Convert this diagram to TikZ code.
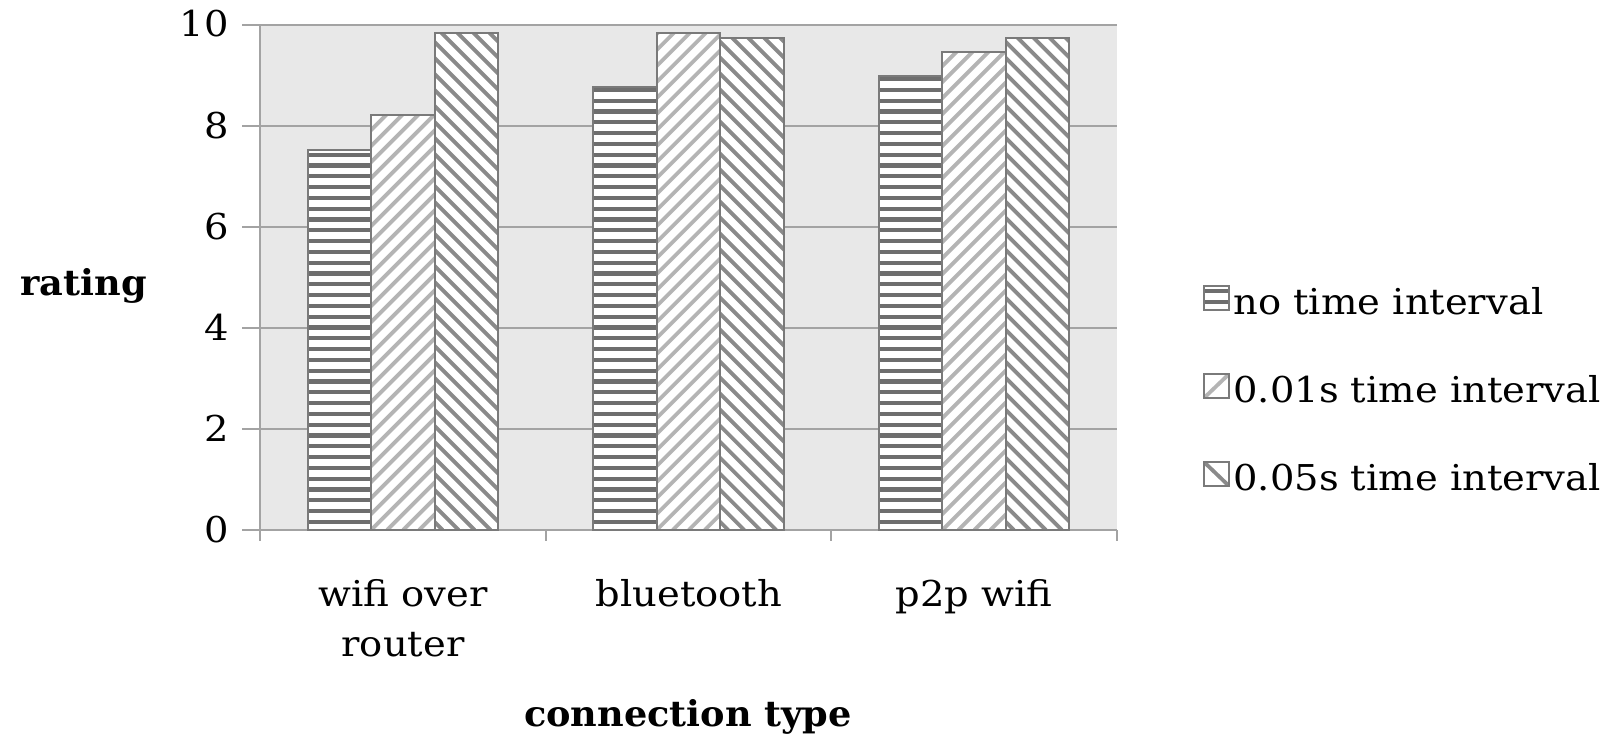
\documentclass[tikz,border=0pt]{standalone}
\usepackage{fontspec}
\setmainfont[FakeStretch=1.08]{DejaVu Serif}
\newfontfamily\titlefont[FakeStretch=1.03]{DejaVu Serif}
\definecolor{plotbg}{HTML}{E8E8E8}
\definecolor{gridc}{HTML}{A3A3A3}
\definecolor{barc}{HTML}{7A7A7A}
\definecolor{stripeD}{HTML}{6E6E6E}
\definecolor{diagL}{HTML}{B4B4B4}
\definecolor{diagD}{HTML}{8A8A8A}
\tikzset{
  gridline/.style={draw=gridc, line width=1pt},
  barline/.style={draw=barc, line width=1pt},
  ticklab/.style={anchor=base east, inner sep=0pt, font=\fontsize{17.8pt}{21pt}\selectfont},
  catlab/.style={anchor=base, inner sep=0pt, font=\fontsize{17.8pt}{21pt}\selectfont},
  leglab/.style={anchor=base west, inner sep=0pt, font=\fontsize{17.8pt}{21pt}\selectfont},
  titlelab/.style={inner sep=0pt, font=\titlefont\bfseries\fontsize{17.8pt}{21pt}\selectfont},
}
% patterns: #1 x-left, #2 y-bottom, #3 x-right, #4 y-top (pixel coordinates, y down)
\newcommand\patH[4]{%
  \begin{scope}
    \clip (#1,#2) rectangle (#3,#4);
    \fill[white] (#1,#2) rectangle (#3,#4);
    \foreach \k in {0,...,50}{\fill[stripeD] (#1,#2-6-10.8*\k) rectangle (#3,#2-6-10.8*\k-4.2);}
  \end{scope}}
\newcommand\patU[4]{%
  \begin{scope}
    \clip (#1,#2) rectangle (#3,#4);
    \fill[white] (#1,#2) rectangle (#3,#4);
    \foreach \k in {0,...,45}{\draw[diagL, line width=1.9pt] (#1-560+16*\k,#2) -- ++(600,-600);}
  \end{scope}}
\newcommand\patD[4]{%
  \begin{scope}
    \clip (#1,#2) rectangle (#3,#4);
    \fill[white] (#1,#2) rectangle (#3,#4);
    \foreach \k in {0,...,45}{\draw[diagD, line width=1.9pt] (#1-40+16*\k,#2) -- ++(-600,-600);}
  \end{scope}}
\newcommand\chartbar[3]{% #1 pattern macro, #2 left x, #3 value
  \pgfmathsetmacro\ytop{530-50.54*#3}%
  \pgfmathsetmacro\xr{#2+63.5}%
  #1{#2}{530}{\xr}{\ytop}%
  \draw[barline] (#2,530) rectangle (\xr,\ytop);}
\begin{document}
\begin{tikzpicture}[x=0.5pt,y=-0.5pt]
\useasboundingbox (0,0) rectangle (1610,742);
% plot area
\fill[plotbg] (260,24.6) rectangle (1117,530);
\foreach \v in {0,2,...,10}{\draw[gridline] (242,530-50.54*\v) -- (1117,530-50.54*\v);}
\draw[gridline] (260,24.6) -- (260,530);
\foreach \xx in {260,545.7,831.3,1117}{\draw[gridline] (\xx,530) -- (\xx,541);}
% bars
\chartbar{\patH}{307.6}{7.52}
\chartbar{\patU}{371.1}{8.22}
\chartbar{\patD}{434.6}{9.84}
\chartbar{\patH}{593.3}{8.76}
\chartbar{\patU}{656.8}{9.84}
\chartbar{\patD}{720.3}{9.74}
\chartbar{\patH}{879.0}{8.98}
\chartbar{\patU}{942.4}{9.46}
\chartbar{\patD}{1005.9}{9.74}
% tick labels
\node[ticklab] (t0) at (229,542.4) {0};
\node[ticklab] (t2) at (229,441.3) {2};
\node[ticklab] (t4) at (229,340.2) {4};
\node[ticklab] (t6) at (229,239.2) {6};
\node[ticklab] (t8) at (229,138.1) {8};
\node[ticklab] (t10) at (229,37.0) {10};
\node[titlelab, anchor=base west] (ylab) at (20,296) {rating};
% category labels
\node[catlab] (c1a) at (403,606) {wifi over};
\node[catlab] (c1b) at (403,656) {router};
\node[catlab] (c2) at (689,606) {bluetooth};
\node[catlab] (c3) at (974,606) {p2p wifi};
\node[titlelab, anchor=base] (xlab) at (688,726) {connection type};
% legend
\patH{1204}{310}{1229}{286}
\draw[barline] (1204,310) rectangle (1229,286);
\node[leglab] (l1) at (1233,315) {no time interval};
\begin{scope}
  \clip (1204,398) rectangle (1229,374);
  \fill[white] (1204,398) rectangle (1229,374);
  \draw[diagL, line width=1.9pt] (1204,398) -- (1229,374);
\end{scope}
\draw[barline] (1204,398) rectangle (1229,374);
\node[leglab] (l2) at (1233,403) {0.01s time interval};
\begin{scope}
  \clip (1204,486) rectangle (1229,462);
  \fill[white] (1204,486) rectangle (1229,462);
  \draw[diagD, line width=1.9pt] (1204,462) -- (1229,486);
\end{scope}
\draw[barline] (1204,486) rectangle (1229,462);
\node[leglab] (l3) at (1233,491) {0.05s time interval};
\end{tikzpicture}
\end{document}
